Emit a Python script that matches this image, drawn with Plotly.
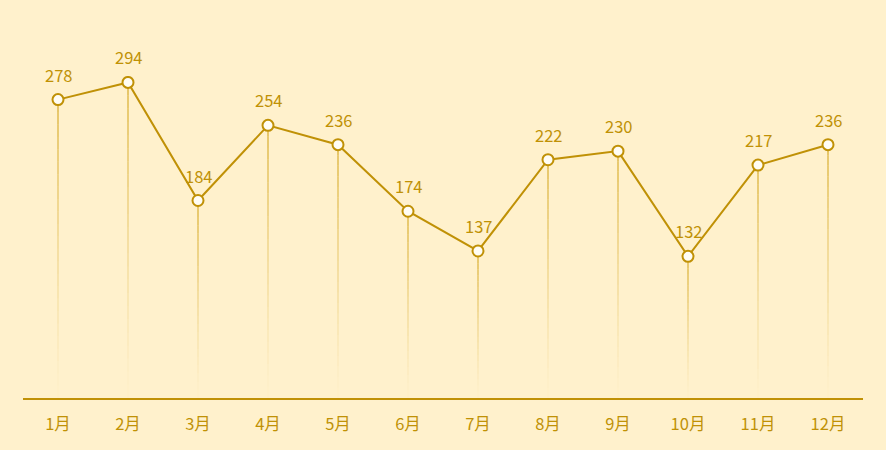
import plotly.graph_objects as go

months = ["1月", "2月", "3月", "4月", "5月", "6月", "7月", "8月", "9月", "10月", "11月", "12月"]
values = [278, 294, 184, 254, 236, 174, 137, 222, 230, 132, 217, 236]

GOLD = "#c09106"
BG = "#fff1cc"
FONT = "Noto Sans CJK SC"

fig = go.Figure()

# gradient drop lines (segments fading towards the axis)
N = 24
for k in range(N):
    xs, ys = [], []
    for i, v in enumerate(values):
        top = v * (1 - k / N)
        bot = v * (1 - (k + 1) / N)
        xs += [i, i, None]
        ys += [top, bot, None]
    alpha = 0.6 * (1 - k / N) ** 1.3
    fig.add_trace(go.Scatter(
        x=xs, y=ys, mode="lines",
        line=dict(color=f"rgba(214,170,40,{alpha:.3f})", width=2),
        hoverinfo="skip", showlegend=False))

fig.add_trace(go.Scatter(
    x=list(range(len(values))), y=values, mode="lines+markers",
    line=dict(color=GOLD, width=2),
    marker=dict(size=11, color="#fffdf5", line=dict(color=GOLD, width=2)),
    showlegend=False))

for i, v in enumerate(values):
    fig.add_annotation(x=i, y=v, text=str(v), showarrow=False, yshift=25,
                       font=dict(color=GOLD, size=16.5, family=FONT))

fig.update_layout(
    width=886, height=450,
    margin=dict(l=23, r=23, t=76, b=52),
    paper_bgcolor=BG, plot_bgcolor=BG,
    font=dict(family=FONT, color=GOLD, size=16),
    xaxis=dict(range=[-0.5, len(values) - 0.5], tickmode="array",
               tickvals=list(range(len(values))), ticktext=months,
               showgrid=False, zeroline=False, showline=True,
               linecolor=GOLD, linewidth=2, ticks="", ticklabelstandoff=10,
               tickfont=dict(color=GOLD, size=16.5, family=FONT)),
    yaxis=dict(range=[0, 300], visible=False, showgrid=False, zeroline=False),
)

fig.write_html(
    "out.html",
    config={"displayModeBar": False},
    post_script="document.body.style.margin='0';document.body.style.background='" + BG + "';",
)
